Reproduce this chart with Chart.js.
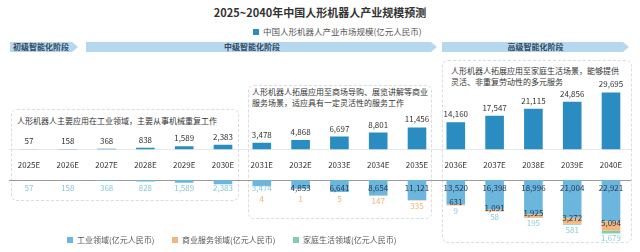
<!DOCTYPE html>
<html>
<head>
<meta charset="utf-8">
<script src="https://cdn.jsdelivr.net/npm/chart.js@4.4.1/dist/chart.umd.min.js"></script>
<style>
  body { margin: 0; width: 640px; height: 252px; background: #fff; position: relative; overflow: hidden;
         font-family: "Noto Sans CJK SC", "Noto Sans", sans-serif; color: #333; }
  .abs { position: absolute; }
  .box { position: absolute; border: 1px dashed #d6dce2; border-radius: 6px; box-sizing: border-box; }
  .phase { position: absolute; top: 42px; height: 10px; background: #b6d8ef; font-size: 8px; font-weight: bold;
           line-height: 10px; color: #34495e; white-space: nowrap;
           clip-path: polygon(0 0, calc(100% - 6px) 0, 100% 50%, calc(100% - 6px) 100%, 0 100%); }
  .note { position: absolute; font-size: 8px; line-height: 11px; color: #333; white-space: nowrap; }
  .leg { position: absolute; font-size: 8px; line-height: 10px; color: #555; white-space: nowrap; }
  .leg i { display: inline-block; width: 6px; height: 6px; margin-right: 4px; vertical-align: 0px; }
  canvas { position: absolute; left: 0; }
</style>
</head>
<body>
<div class="abs" style="left:0;top:4px;width:640px;text-align:center;font-size:11px;font-weight:bold;line-height:16px;color:#333">2025~2040年中国人形机器人产业规模预测</div>
<div class="leg" style="left:253px;top:26px;font-size:8.5px"><i style="background:#2a8cc0"></i>中国人形机器人产业市场规模(亿元人民币)</div>

<div class="phase" style="left:10px;width:68px;padding-left:3px;box-sizing:border-box">初级智能化阶段</div>
<div class="phase" style="left:86px;width:351px"><span class="abs" style="left:138px">中级智能化阶段</span></div>
<div class="phase" style="left:442px;width:187px;text-align:center">高级智能化阶段</div>

<div class="box" style="left:11px;top:109px;width:228px;height:92px"></div>
<div class="box" style="left:248px;top:85px;width:184px;height:134px"></div>
<div class="box" style="left:442px;top:60px;width:190px;height:183px"></div>

<div class="note" style="left:17px;top:115px">人形机器人主要应用在工业领域，主要从事机械重复工作</div>
<div class="note" style="left:252px;top:86px">人形机器人拓展应用至商场导购、展览讲解等商业<br>服务场景，适应具有一定灵活性的服务工作</div>
<div class="note" style="left:451px;top:65px">人形机器人拓展应用至家庭生活场景，能够提供<br>灵活、非重复劳动性的多元服务</div>

<canvas id="topChart" width="640" height="190" style="top:0"></canvas>
<canvas id="bottomChart" width="640" height="73" style="top:179px"></canvas>

<div class="leg" style="left:67px;top:235px"><i style="background:#6cb6de"></i>工业领域(亿元人民币)</div>
<div class="leg" style="left:172px;top:235px"><i style="background:#f4b67a"></i>商业服务领域(亿元人民币)</div>
<div class="leg" style="left:293px;top:235px"><i style="background:#84cbb0"></i>家庭生活领域(亿元人民币)</div>

<script>
var years = ['2025E', '2026E', '2027E', '2028E', '2029E', '2030E', '2031E', '2032E',
             '2033E', '2034E', '2035E', '2036E', '2037E', '2038E', '2039E', '2040E'];
var marketSize = [57, 158, 368, 838, 1589, 2383, 3478, 4868, 6697, 8801, 11456, 14160, 17547, 21115, 24856, 29695];
var industrial = [57, 158, 368, 828, 1589, 2383, 3474, 4853, 6641, 8654, 11121, 13520, 16398, 18996, 21004, 22921];
var commercial = [0, 0, 0, 0, 0, 0, 4, 1, 5, 147, 335, 631, 1091, 1925, 3272, 5094];
var household = [0, 0, 0, 0, 0, 0, 0, 0, 0, 0, 0, 9, 58, 195, 581, 1679];

var FONT = '"Noto Sans CJK SC", "Noto Sans", sans-serif';

function fmt(v) {
    return v.toLocaleString('en-US');
}

// value labels above the top bars
var topLabels = {
    id: 'topLabels',
    afterDatasetsDraw: function(chart) {
        var ctx = chart.ctx;
        var meta = chart.getDatasetMeta(0);
        ctx.save();
        ctx.font = '8px ' + FONT;
        ctx.fillStyle = '#333';
        ctx.textAlign = 'center';
        ctx.textBaseline = 'middle';
        meta.data.forEach(function(bar, i) {
            ctx.fillText(fmt(marketSize[i]), bar.x, bar.y - 8);
        });
        ctx.restore();
    }
};

// labels for the downward stacked bars
var bottomLabels = {
    id: 'bottomLabels',
    afterDatasetsDraw: function(chart) {
        var ctx = chart.ctx;
        var top = chart.chartArea.top;
        ctx.save();
        ctx.font = '8px ' + FONT;
        ctx.textAlign = 'center';
        ctx.textBaseline = 'middle';
        chart.getDatasetMeta(0).data.forEach(function(bar, i) {
            ctx.fillStyle = (bar.y - bar.base) >= 8 ? '#23394f' : '#86c6da';
            ctx.fillText(fmt(industrial[i]), bar.x, bar.base + 8);
        });
        chart.getDatasetMeta(1).data.forEach(function(bar, i) {
            var v = commercial[i];
            if (!v) return;
            if (v < 500) {
                ctx.fillStyle = '#f0b070';
                ctx.fillText(fmt(v), bar.x, Math.max(bar.y + 5, top + 19));
            } else {
                ctx.fillStyle = '#23394f';
                ctx.fillText(fmt(v), bar.x, (bar.y + bar.base) / 2 - 3);
            }
        });
        chart.getDatasetMeta(2).data.forEach(function(bar, i) {
            var v = household[i];
            if (!v) return;
            ctx.fillStyle = '#8ccbdc';
            ctx.fillText(fmt(v), bar.x, bar.y + 5);
        });
        ctx.restore();
    }
};

new Chart(document.getElementById('topChart'), {
    type: 'bar',
    data: {
        labels: years,
        datasets: [{
            label: '中国人形机器人产业市场规模(亿元人民币)',
            data: marketSize,
            backgroundColor: '#2a8cc0',
            barPercentage: 0.6,
            categoryPercentage: 0.8
        }]
    },
    options: {
        responsive: false,
        animation: false,
        layout: { padding: { left: 9.6, right: 9.6, top: 63, bottom: 9 } },
        plugins: { legend: { display: false }, tooltip: { enabled: false } },
        scales: {
            x: {
                grid: { display: false, drawTicks: false },
                border: { color: '#e6e9ec' },
                ticks: { color: '#333', font: { size: 8, family: FONT }, padding: 11, maxRotation: 0, autoSkip: false }
            },
            y: { display: false, min: 0, max: 45000 }
        }
    },
    plugins: [topLabels]
});

new Chart(document.getElementById('bottomChart'), {
    type: 'bar',
    data: {
        labels: years,
        datasets: [
            { label: '工业领域(亿元人民币)', data: industrial, backgroundColor: '#6cb6de' },
            { label: '商业服务领域(亿元人民币)', data: commercial, backgroundColor: '#f4b67a' },
            { label: '家庭生活领域(亿元人民币)', data: household, backgroundColor: '#84cbb0' }
        ]
    },
    options: {
        responsive: false,
        animation: false,
        datasets: { bar: { barPercentage: 0.6, categoryPercentage: 0.8 } },
        layout: { padding: { left: 9.6, right: 9.6, top: 1, bottom: 0 } },
        plugins: { legend: { display: false }, tooltip: { enabled: false } },
        scales: {
            x: {
                position: 'top',
                stacked: true,
                grid: { display: false, drawTicks: false },
                border: { color: '#9a9a9a' },
                ticks: { display: false }
            },
            y: { display: false, stacked: true, reverse: true, min: 0, max: 40000 }
        }
    },
    plugins: [bottomLabels]
});
</script>
</body>
</html>
